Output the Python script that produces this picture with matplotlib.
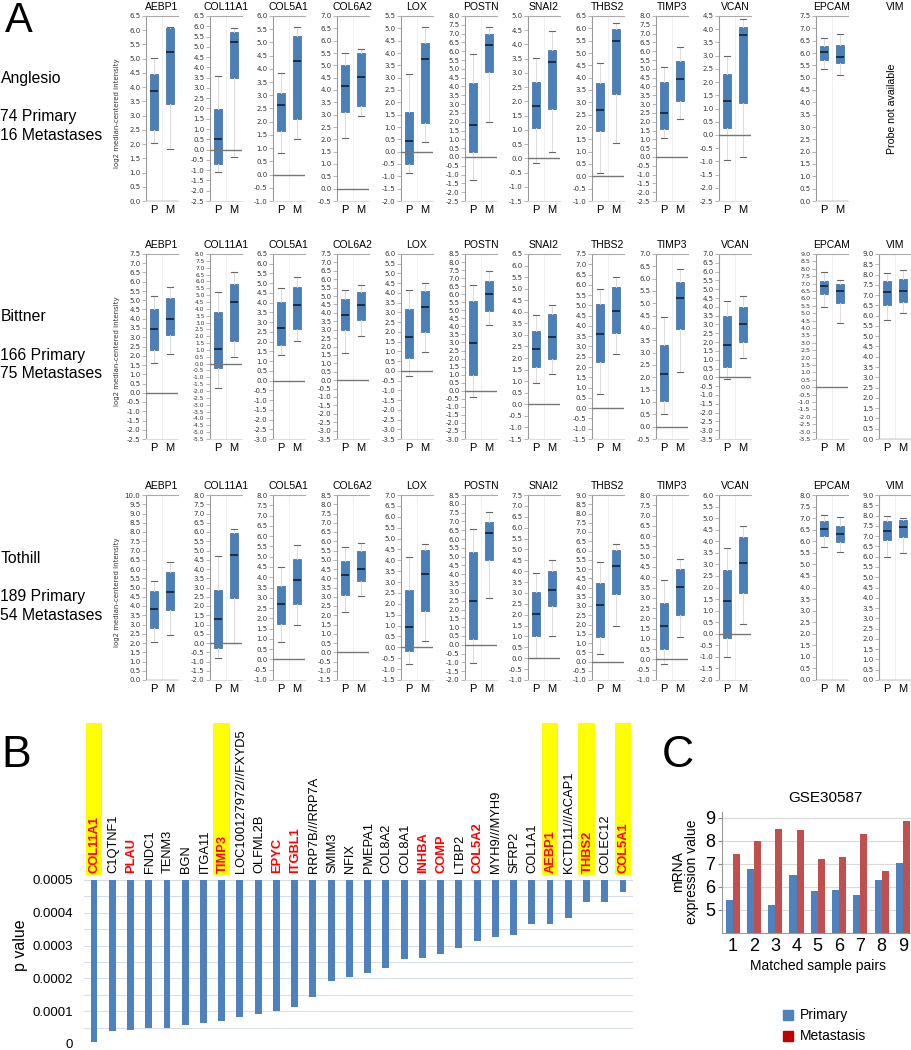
import numpy as np
import matplotlib
matplotlib.use("Agg")
import matplotlib.pyplot as plt
from matplotlib.patches import Rectangle, Patch
from matplotlib.transforms import blended_transform_factory

plt.rcParams["font.family"] = ["Liberation Sans", "DejaVu Sans"]
plt.rcParams["axes.unicode_minus"] = False

W, H = 911, 1050

# -----------------------------
# Panel A data: box statistics (whisker_lo, q1, median, q3, whisker_hi)
# -----------------------------
genes = ["AEBP1", "COL11A1", "COL5A1", "COL6A2", "LOX", "POSTN",
         "SNAI2", "THBS2", "TIMP3", "VCAN", "EPCAM", "VIM"]
datasets = ["Anglesio", "Bittner", "Tothill"]
dataset_primary = ["74 Primary", "166 Primary", "189 Primary"]
dataset_metastases = ["16 Metastases", "75 Metastases", "54 Metastases"]
group_labels = ["P", "M"]

anglesio_ylim = [(0.0, 6.5), (-2.5, 6.5), (-1.0, 6.0), (-0.5, 7.0), (-2.0, 5.5), (-2.5, 8.0),
                 (-1.5, 5.0), (-1.0, 6.5), (-2.5, 8.0), (-2.5, 4.5), (0.0, 7.5), None]
anglesio_p = [(2.05, 2.5, 3.87, 4.45, 5.02), (-1.1, -0.7, 0.53, 1.97, 3.6),
              (0.83, 1.65, 2.65, 3.1, 3.85), (2.05, 3.1, 4.18, 5.02, 5.48),
              (-0.85, -0.5, 0.42, 1.62, 3.15), (-1.3, 0.28, 1.82, 4.22, 5.82),
              (-0.17, 1.05, 1.85, 2.68, 3.53), (0.13, 1.83, 2.7, 3.78, 4.6),
              (1.08, 1.6, 2.48, 4.25, 5.13), (-0.95, 0.25, 1.27, 2.3, 3.0),
              (5.37, 5.72, 6.03, 6.3, 6.6), None]
anglesio_m = [(1.83, 3.42, 5.23, 6.07, 6.12), (-0.38, 3.5, 5.23, 5.7, 5.9),
              (1.33, 2.1, 4.28, 5.25, 5.6), (2.93, 3.35, 4.52, 5.48, 5.68),
              (0.38, 1.18, 3.75, 4.42, 5.07), (1.97, 4.83, 6.38, 6.97, 7.38),
              (0.23, 1.73, 3.38, 3.8, 4.47), (1.37, 3.35, 5.47, 5.97, 6.22),
              (2.15, 3.17, 4.45, 5.45, 6.22), (-0.85, 1.22, 3.8, 4.1, 4.37),
              (5.12, 5.6, 5.85, 6.33, 6.78), None]

bittner_ylim = [(-2.5, 7.5), (-5.5, 8.0), (-3.0, 6.5), (-3.5, 7.5), (-3.5, 6.0), (-3.0, 8.5),
                (-1.5, 6.5), (-1.5, 7.5), (-0.5, 7.0), (-3.5, 7.0), (-3.5, 9.0), (0.0, 9.0)]
bittner_p = [(1.6, 2.33, 3.42, 4.52, 5.22), (-1.8, -0.3, 1.1, 3.75, 5.22),
             (1.3, 1.82, 2.72, 4.02, 4.73), (1.62, 2.98, 3.88, 4.8, 5.35),
             (-0.27, 0.67, 1.76, 3.2, 4.15), (-0.4, 0.95, 2.97, 5.6, 6.57),
             (0.92, 1.62, 2.38, 3.15, 3.85), (0.68, 2.25, 3.62, 5.07, 5.78),
             (0.53, 1.05, 2.15, 3.33, 4.45), (-0.1, 0.6, 1.85, 3.5, 4.35),
             (5.45, 6.3, 6.83, 7.2, 7.75), (5.78, 6.5, 7.13, 7.7, 8.07)]
bittner_m = [(2.1, 3.13, 3.97, 5.1, 5.72), (0.47, 1.65, 4.5, 5.82, 6.72),
             (2.03, 2.65, 3.86, 4.78, 5.3), (2.65, 3.55, 4.45, 5.23, 5.68),
             (0.97, 2.0, 3.27, 4.1, 4.5), (4.08, 4.93, 6.03, 6.85, 7.43),
             (1.33, 1.95, 2.92, 3.9, 4.28), (2.65, 3.67, 4.75, 5.9, 6.4),
             (2.2, 3.97, 5.22, 5.87, 6.38), (1.07, 2.03, 3.0, 4.02, 4.6),
             (4.35, 5.7, 6.5, 7.0, 7.25), (6.15, 6.67, 7.22, 7.78, 8.2)]

tothill_ylim = [(0.0, 10.0), (-2.0, 8.0), (-1.0, 8.0), (-1.5, 8.5), (-1.5, 7.0), (-2.0, 8.5),
                (-1.0, 7.5), (-1.0, 9.0), (-1.0, 8.0), (-2.0, 6.0), (0.0, 8.0), (0.0, 9.0)]
tothill_p = [(2.07, 2.8, 3.82, 4.82, 5.37), (-0.83, -0.25, 1.3, 2.85, 4.68),
             (0.85, 1.72, 2.72, 3.58, 4.5), (2.2, 3.07, 4.15, 4.93, 5.7),
             (-0.78, -0.18, 0.95, 2.65, 4.13), (-1.02, 0.33, 2.47, 5.27, 6.55),
             (0.0, 1.0, 2.02, 3.03, 3.92), (0.4, 1.35, 3.05, 4.25, 5.37),
             (-0.2, 0.52, 1.65, 2.75, 3.88), (-1.0, -0.18, 1.43, 2.75, 3.7),
             (5.75, 6.23, 6.55, 6.88, 7.15), (6.0, 6.8, 7.25, 7.72, 7.97)]
tothill_m = [(2.45, 3.8, 4.78, 5.83, 6.4), (0.0, 2.45, 4.78, 5.93, 6.17),
             (1.7, 2.68, 3.88, 4.87, 5.55), (3.02, 3.83, 4.5, 5.5, 5.9),
             (0.3, 1.65, 3.38, 4.47, 4.77), (2.68, 4.8, 6.35, 6.97, 7.55),
             (1.0, 2.38, 3.15, 4.0, 4.5), (1.92, 3.65, 5.17, 6.02, 6.37),
             (1.1, 2.15, 3.52, 4.42, 4.88), (0.43, 1.77, 3.08, 4.2, 4.65),
             (5.52, 5.97, 6.3, 6.68, 7.05), (6.2, 6.95, 7.45, 7.8, 7.88)]

# -----------------------------
# Panel B data
# -----------------------------
b_genes = ["COL11A1", "C1QTNF1", "PLAU", "FNDC1", "TENM3", "BGN", "ITGA11", "TIMP3",
           "LOC100127972///FXYD5", "OLFML2B", "EPYC", "ITGBL1", "RRP7B///RRP7A", "SMIM3",
           "NFIX", "PMEPA1", "COL8A2", "COL8A1", "INHBA", "COMP", "LTBP2", "COL5A2",
           "MYH9///MYH9", "SFRP2", "COL1A1", "AEBP1", "KCTD11///ACAP1", "THBS2",
           "COLEC12", "COL5A1"]
b_pvalues = [0.000007, 0.00004, 0.000042, 0.000048, 0.000048, 0.000057, 0.000063, 0.000071,
             0.000082, 0.000091, 0.0001, 0.000112, 0.000144, 0.000193, 0.000205, 0.000215,
             0.000232, 0.000258, 0.000261, 0.000274, 0.000292, 0.000314, 0.000325, 0.000333,
             0.000366, 0.000366, 0.000383, 0.000432, 0.000432, 0.000464]
b_red = ["COL11A1", "PLAU", "TIMP3", "EPYC", "ITGBL1", "INHBA", "COMP", "COL5A2",
         "AEBP1", "THBS2", "COL5A1"]
b_yellow = ["COL11A1", "TIMP3", "AEBP1", "THBS2", "COL5A1"]

# -----------------------------
# Panel C data
# -----------------------------
c_pairs = [1, 2, 3, 4, 5, 6, 7, 8, 9]
c_primary = [5.43, 6.75, 5.22, 6.5, 5.8, 5.85, 5.63, 6.28, 7.03]
c_metastasis = [7.4, 7.98, 8.5, 8.45, 7.2, 7.3, 8.28, 6.7, 8.87]


def px_axes(fig, x0, y0, x1, y1):
    """Axes from pixel box (top-left origin)."""
    return fig.add_axes([x0 / W, 1 - y1 / H, (x1 - x0) / W, (y1 - y0) / H])


fig = plt.figure(figsize=(W / 100, H / 100), dpi=100)

# -----------------------------
# Panel A
# -----------------------------
col_x0 = [146, 210, 273, 337, 401, 465, 528, 592, 656, 719, 816, 879]
col_w = 31.7
row_y = [(16, 201), (254, 439), (495, 680)]
row_label_y = [(83, 121.5, 139.5), (321, 359.5, 378), (563, 601.5, 619.7)]

all_ylim = [anglesio_ylim, bittner_ylim, tothill_ylim]
all_p = [anglesio_p, bittner_p, tothill_p]
all_m = [anglesio_m, bittner_m, tothill_m]

box_color = "#4a7fb8"
for r in range(3):
    y0, y1 = row_y[r]
    for c, gene in enumerate(genes):
        ax = px_axes(fig, col_x0[c], y0, col_x0[c] + col_w, y1)
        ax.set_title(gene, fontsize=7.5, pad=4.5)
        lim = all_ylim[r][c]
        if lim is None:
            ax.axis("off")
            ax.text(0.4, 0.5, "Probe not available", rotation=90, fontsize=7.6,
                    ha="center", va="center", transform=ax.transAxes)
            continue
        stats = []
        for s in (all_p[r][c], all_m[r][c]):
            lo, q1, med, q3, hi = s
            stats.append(dict(whislo=lo, q1=q1, med=med, q3=q3, whishi=hi, fliers=[]))
        ax.axvline(1.5, color="#eeeeee", lw=0.6, zorder=0)
        ax.bxp(stats, positions=[1, 2], widths=0.48, capwidths=0.36, patch_artist=True,
               showfliers=False,
               boxprops=dict(facecolor=box_color, edgecolor="#3a6a9e", lw=0.5),
               medianprops=dict(color="#102036", lw=1.2),
               whiskerprops=dict(color="#dddddd", lw=0.7),
               capprops=dict(color="#666666", lw=0.8))
        ax.axhline(0, color="#777777", lw=1.0, zorder=4)
        ax.set_xlim(0.5, 2.5)
        ax.set_ylim(*lim)
        ticks = np.arange(lim[0], lim[1] + 0.01, 0.5)
        ax.set_yticks(ticks)
        ax.set_yticklabels([f"{t:.1f}" for t in ticks])
        per_tick = (y1 - y0) / (len(ticks) - 1)
        fs = 5.0 if per_tick >= 8 else max(3.8, per_tick * 0.62)
        ax.tick_params(axis="y", labelsize=fs, length=3, width=0.5, color="#999999",
                       pad=1, labelcolor="#333333")
        for lab in ax.get_yticklabels():
            lab.set_family("DejaVu Sans")
        ax.set_xticks([1, 2])
        ax.set_xticklabels(group_labels, fontsize=8)
        ax.tick_params(axis="x", length=0, pad=3)
        ax.spines["right"].set_visible(False)
        ax.spines["left"].set_color("#999999")
        ax.spines["top"].set_color("#aaaaaa")
        ax.spines["bottom"].set_color("#dddddd")
        for sp in ax.spines.values():
            sp.set_linewidth(0.8)
    # row labels
    ly = row_label_y[r]
    fig.text(0.5 / W, 1 - ly[0] / H, datasets[r], fontsize=11.3, va="baseline")
    fig.text(0.5 / W, 1 - ly[1] / H, dataset_primary[r], fontsize=11.3, va="baseline")
    fig.text(0.5 / W, 1 - ly[2] / H, dataset_metastases[r], fontsize=11.3, va="baseline")
    fig.text(117 / W, 1 - ((y0 + y1) / 2 + 5) / H, "log2 median-centered intensity",
             rotation=90, fontsize=5, family="DejaVu Sans", ha="center", va="center",
             color="#333333")

# -----------------------------
# Panel B
# -----------------------------
axb = px_axes(fig, 84, 880, 633, 1044)
xb = np.arange(len(b_genes))
pv = np.array(b_pvalues)
top = 0.0005
axb.bar(xb, top - pv, bottom=pv, width=0.38, color="#4f81bd", zorder=3)
axb.set_xlim(-0.55, 29.55)
axb.set_ylim(0, top)
axb.set_yticks(np.arange(0, 0.00051, 0.0001))
axb.set_yticklabels(["0", "0.0001", "0.0002", "0.0003", "0.0004", "0.0005"])
for g in np.arange(0, 0.00051, 0.00005):
    axb.axhline(g, color="#d5dde8", lw=0.8, zorder=1)
axb.tick_params(axis="y", length=0, labelsize=9.5, pad=8)
axb.set_xticks([])
for sp in axb.spines.values():
    sp.set_visible(False)
axb.set_ylabel("p value", fontsize=11.5)
axb.yaxis.set_label_coords(-(84 - 28) / (633 - 84), 0.6)

tb = blended_transform_factory(axb.transData, fig.transFigure)
for i, g in enumerate(b_genes):
    if g in b_yellow:
        axb.add_patch(Rectangle((i - 0.46, 1 - 875 / H), 0.92, (875 - 723) / H,
                                transform=tb, facecolor="#ffff00", edgecolor="none",
                                clip_on=False, zorder=0))
    red = g in b_red
    axb.text(i + 0.05, 1 - 873 / H, g, transform=tb, rotation=90, ha="center", va="bottom",
             fontsize=9.3, color="#ff0000" if red else "black",
             fontweight="bold" if red else "normal")

# -----------------------------
# Panel C
# -----------------------------
axc = px_axes(fig, 722, 811.7, 913.6, 932.7)
xc = np.array(c_pairs)
bw = 0.33
axc.bar(xc - bw / 2, c_primary, width=bw, color="#4f81bd", zorder=3)
axc.bar(xc + bw / 2, c_metastasis, width=bw, color="#c0504d", zorder=3)
axc.set_xlim(0.5, 9.5)
axc.set_ylim(4, 9.26)
axc.set_yticks([5, 6, 7, 8, 9])
for g in [5, 6, 7, 8, 9]:
    axc.axhline(g, color="#d9d9d9", lw=0.8, zorder=1)
axc.set_xticks(xc)
axc.tick_params(axis="x", length=0, labelsize=13, pad=4)
axc.tick_params(axis="y", length=3, labelsize=13, pad=2, color="#888888")
axc.spines["top"].set_visible(False)
axc.spines["right"].set_visible(False)
axc.spines["left"].set_color("#999999")
axc.spines["bottom"].set_color("#999999")
fig.text(825 / W, 1 - 798 / H, "GSE30587", fontsize=11, ha="center", va="center")
fig.text(685 / W, 1 - 872 / H, "mRNA\nexpression value", fontsize=10, rotation=90,
         ha="center", va="center", linespacing=1.0)
fig.text(818 / W, 1 - 966 / H, "Matched sample pairs", fontsize=10, ha="center", va="center")
fig.legend(handles=[Patch(color="#4f81bd"), Patch(color="#c00000")],
           labels=["Primary", "Metastasis"], loc="upper left",
           bbox_to_anchor=(770 / W, 1 - 996 / H), frameon=False, fontsize=10,
           handlelength=0.75, handleheight=0.75, handletextpad=0.5, labelspacing=0.5)

# panel letters
fig.text(5 / W, 1 - 1 / H, "A", fontsize=30, va="top")
fig.text(1 / W, 1 - 735 / H, "B", fontsize=32, va="top")
fig.text(662 / W, 1 - 735 / H, "C", fontsize=32, va="top")

fig.savefig("out.png", dpi=100)
